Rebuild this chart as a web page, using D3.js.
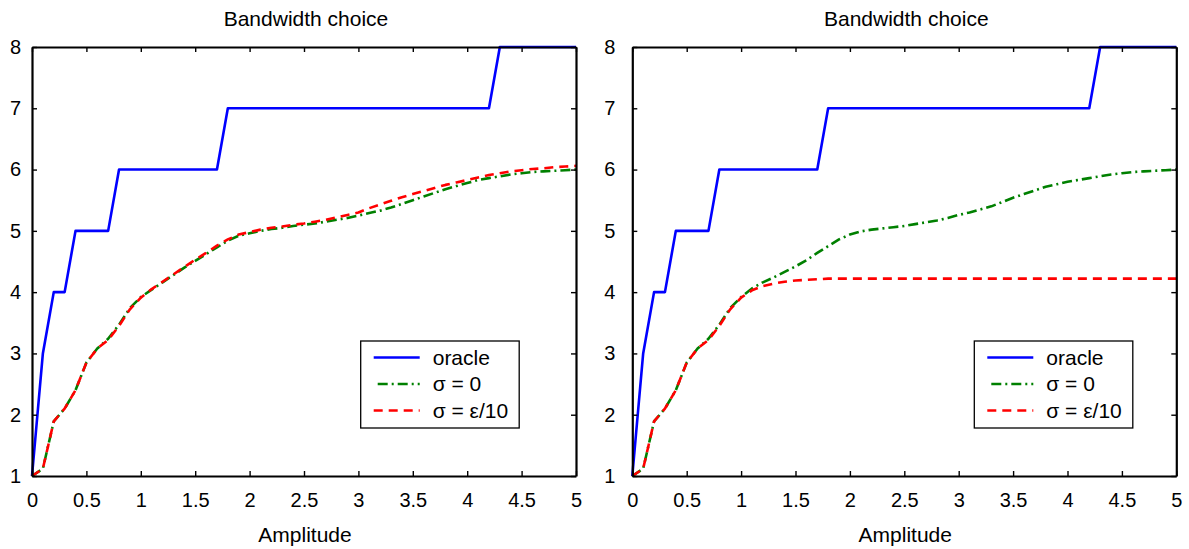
<!DOCTYPE html>
<html>
<head>
<meta charset="utf-8">
<script src="https://cdn.jsdelivr.net/npm/d3@7"></script>
<style>
  body { margin: 0; background: #fff; }
  svg { display: block; font-family: "Liberation Sans", Arial, sans-serif; }
</style>
</head>
<body>
<svg id="chart" width="1189" height="549"></svg>
<script>
// ---------------- DATA ----------------
const amplitude = [0,0.1,0.2,0.3,0.4,0.5,0.6,0.7,0.8,0.9,1.0,1.1,1.2,1.3,1.4,1.5,1.6,1.7,1.8,1.9,
  2.0,2.1,2.2,2.3,2.4,2.5,2.6,2.7,2.8,2.9,3.0,3.1,3.2,3.3,3.4,3.5,3.6,3.7,3.8,3.9,
  4.0,4.1,4.2,4.3,4.4,4.5,4.6,4.7,4.8,4.9,5.0];

const oracle = [1,3,4,4,5,5,5,5,6,6,6,6,6,6,6,6,6,6,7,7,
  7,7,7,7,7,7,7,7,7,7,7,7,7,7,7,7,7,7,7,7,
  7,7,7,8,8,8,8,8,8,8,8];

// left panel
const leftSigma0 = [1.00,1.12,1.89,2.10,2.40,2.85,3.08,3.24,3.47,3.74,3.92,4.04,4.16,4.28,4.40,4.51,4.62,4.73,4.84,4.92,
  4.96,5.00,5.03,5.05,5.08,5.10,5.12,5.15,5.18,5.21,5.25,5.29,5.33,5.38,5.44,5.50,5.56,5.62,5.68,5.73,
  5.78,5.83,5.86,5.89,5.92,5.94,5.96,5.97,5.98,5.99,6.00];
const leftSigmaEps = [1.00,1.12,1.89,2.10,2.40,2.85,3.08,3.22,3.45,3.72,3.91,4.05,4.17,4.29,4.41,4.53,4.64,4.76,4.86,4.94,
  4.98,5.02,5.05,5.07,5.10,5.12,5.15,5.18,5.22,5.26,5.30,5.37,5.43,5.49,5.55,5.60,5.65,5.70,5.75,5.79,
  5.83,5.87,5.91,5.94,5.97,5.99,6.01,6.02,6.04,6.05,6.06];

// right panel
const rightSigma0 = [1.00,1.12,1.89,2.10,2.40,2.85,3.08,3.24,3.47,3.74,3.92,4.06,4.16,4.24,4.33,4.42,4.52,4.64,4.75,4.86,
  4.94,4.99,5.02,5.04,5.06,5.08,5.11,5.14,5.17,5.21,5.26,5.30,5.35,5.40,5.47,5.54,5.60,5.66,5.72,5.76,
  5.80,5.83,5.86,5.89,5.92,5.94,5.96,5.97,5.98,5.99,6.00];
const rightSigmaEps = [1.00,1.12,1.89,2.10,2.40,2.85,3.08,3.22,3.45,3.72,3.91,4.03,4.10,4.14,4.17,4.19,4.20,4.21,4.22,4.22,
  4.22,4.22,4.22,4.22,4.22,4.22,4.22,4.22,4.22,4.22,4.22,4.22,4.22,4.22,4.22,4.22,4.22,4.22,4.22,4.22,
  4.22,4.22,4.22,4.22,4.22,4.22,4.22,4.22,4.22,4.22,4.22];

const xTicks = [0,0.5,1,1.5,2,2.5,3,3.5,4,4.5,5];
const yTicks = [1,2,3,4,5,6,7,8];
const seriesNames = ["oracle", "σ = 0", "σ = ε/10"];
const titleText = "Bandwidth choice";
const xLabelText = "Amplitude";

// ---------------- STYLES ----------------
const styles = [
  { color: "#0000ff", dash: null, offset: 0 },
  { color: "#008000", dash: "10,4,2,4", offset: 16 },
  { color: "#ff0000", dash: "9,6", offset: 0 }
];

const panels = [
  { x0: 32, x1: 576, yPad: 11, legendX: 360.7, series: [oracle, leftSigma0, leftSigmaEps] },
  { x0: 632.3, x1: 1176.3, yPad: 17, legendX: 974.3, series: [oracle, rightSigma0, rightSigmaEps] }
];
const yTop = 47, yBottom = 476;

const svg = d3.select("#chart");

panels.forEach(p => {
  const x = d3.scaleLinear().domain([0, 5]).range([p.x0, p.x1]);
  const y = d3.scaleLinear().domain([1, 8]).range([yBottom, yTop]);
  const g = svg.append("g");

  // data lines
  const line = d3.line().x((d, i) => x(amplitude[i])).y(d => y(d));
  p.series.forEach((s, k) => {
    g.append("path")
      .datum(s)
      .attr("d", line)
      .attr("fill", "none")
      .attr("stroke", styles[k].color)
      .attr("stroke-width", 2.6)
      .attr("stroke-dasharray", styles[k].dash)
      .attr("stroke-linejoin", "round");
  });

  // axes
  const styleAxis = sel => {
    sel.selectAll(".domain").attr("stroke", "#000").attr("stroke-width", 2.2);
    sel.selectAll(".tick line").attr("stroke", "#000").attr("stroke-width", 1.4);
    sel.selectAll(".tick text").attr("fill", "#000").attr("font-size", 20)
      .attr("font-family", "'Liberation Sans', Arial, sans-serif");
  };
  g.append("g").attr("transform", `translate(0,${yBottom})`)
    .call(d3.axisBottom(x).tickValues(xTicks).tickFormat(d3.format("")).tickSizeInner(-5).tickSizeOuter(0).tickPadding(17))
    .call(styleAxis);
  g.append("g").attr("transform", `translate(0,${yTop})`)
    .call(d3.axisTop(x).tickValues(xTicks).tickFormat("").tickSizeInner(-5).tickSizeOuter(0))
    .call(styleAxis);
  g.append("g").attr("transform", `translate(${p.x0},0)`)
    .call(d3.axisLeft(y).tickValues(yTicks).tickFormat(d3.format("d")).tickSizeInner(-5).tickSizeOuter(0).tickPadding(p.yPad))
    .call(styleAxis);
  g.append("g").attr("transform", `translate(${p.x1},0)`)
    .call(d3.axisRight(y).tickValues(yTicks).tickFormat("").tickSizeInner(-5).tickSizeOuter(0))
    .call(styleAxis);

  // title & x label
  g.append("text").attr("x", (p.x0 + p.x1) / 2 + 2).attr("y", 26)
    .attr("text-anchor", "middle").attr("font-size", 21).attr("fill", "#000").text(titleText);
  g.append("text").attr("x", (p.x0 + p.x1) / 2 + 1).attr("y", 542)
    .attr("text-anchor", "middle").attr("font-size", 21).attr("fill", "#000").text(xLabelText);

  // legend
  const lg = g.append("g").attr("transform", `translate(${p.legendX},341)`);
  lg.append("rect").attr("x", 0).attr("y", 0).attr("width", 158.5).attr("height", 87)
    .attr("fill", "#fff").attr("stroke", "#000").attr("stroke-width", 1.3);
  seriesNames.forEach((name, k) => {
    const cy = 16.5 + k * 26.5;
    lg.append("line").attr("x1", 13).attr("x2", 59).attr("y1", cy).attr("y2", cy)
      .attr("stroke", styles[k].color).attr("stroke-width", 2.6)
      .attr("stroke-dasharray", styles[k].dash)
      .attr("stroke-dashoffset", styles[k].offset);
    lg.append("text").attr("x", 72).attr("y", cy).attr("dy", "0.35em")
      .attr("font-size", 21).attr("fill", "#000").text(name);
  });
});
</script>
</body>
</html>
